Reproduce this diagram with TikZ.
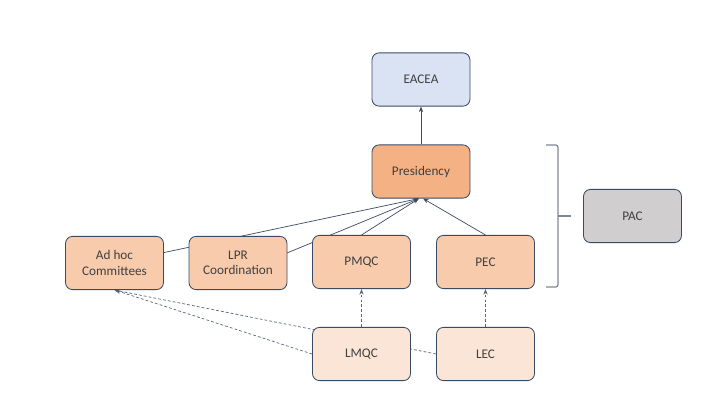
\documentclass[tikz,border=0pt]{standalone}
\usepackage{fontspec}
\setmainfont{Carlito}
\usepackage{tikz}
\usetikzlibrary{arrows.meta, calc, backgrounds}
\definecolor{edgeline}{HTML}{3B4A63}
\definecolor{txtgray}{HTML}{404040}
\definecolor{bluebox}{HTML}{DAE3F3}
\definecolor{presbox}{HTML}{F4B183}
\definecolor{midbox}{HTML}{F8CBAD}
\definecolor{lowbox}{HTML}{FBE5D6}
\definecolor{graybox}{HTML}{D0CECE}
\definecolor{bracegray}{HTML}{7F8796}

\begin{document}
\begin{tikzpicture}[>={Stealth[length=4pt,width=3pt]},
    unit/.style={draw=edgeline, line width=0.6pt, rounded corners=5pt,
      minimum width=2.45cm, minimum height=1.33cm, align=center,
      text=txtgray, font=\fontsize{9.4}{11}\selectfont},
    link/.style={->, draw=edgeline, line width=0.5pt},
    dlink/.style={->, draw=edgeline!85, line width=0.5pt, dash pattern=on 2pt off 1.5pt}]
    \useasboundingbox (0,0) rectangle (18,10.125);

    \node[unit, fill=bluebox] (eacea) at (10.525, 8.1375) {EACEA};
    \node[unit, fill=presbox] (pres) at (10.525, 5.8375) {Presidency};

    \node[unit, fill=midbox] (adhoc) at (2.8625, 3.55) {Ad hoc\\Committees};
    \node[unit, fill=midbox] (lpr) at (5.95, 3.55) {LPR\\Coordination};
    \node[unit, fill=midbox] (pmqc) at (9.0375, 3.575) {PMQC};
    \node[unit, fill=midbox] (pec) at (12.1375, 3.575) {PEC};

    \node[unit, fill=lowbox] (lmqc) at (9.0375, 1.275) {LMQC};
    \node[unit, fill=lowbox] (lec) at (12.1375, 1.275) {LEC};

    \node[unit, fill=graybox] (pac) at (15.8125, 4.725) {PAC};

    % links run behind the boxes
    \begin{pgfonlayer}{background}
      \draw[link] (pres) -- (eacea);
      \draw[link] (adhoc) -- ($(pres.south)+(-0.05,0)$);
      \draw[link] ($(lpr.center)!0.5!(lpr.east)$) -- ($(pres.south)+(-0.05,0)$);
      \draw[link] (pmqc.north) -- ($(pres.south)+(-0.05,0)$);
      \draw[link] (pec.north) -- ($(pres.south)+(0.05,0)$);

      \draw[dlink] (lmqc) -- (pmqc);
      \draw[dlink] (lec) -- (pec);
      \draw[dlink] (lmqc.west) -- (adhoc.south);
      \draw[dlink] (lec.west) -- (adhoc.south);
    \end{pgfonlayer}

    % brace round the presidency group
    \draw[bracegray, line width=0.8pt, rounded corners=1.5pt]
      (13.65, 6.5) -| (13.95, 4.725) |- (13.65, 2.95);
    \draw[bracegray, line width=0.8pt] (13.95, 4.725) -- (14.275, 4.725);
\end{tikzpicture}
\end{document}
